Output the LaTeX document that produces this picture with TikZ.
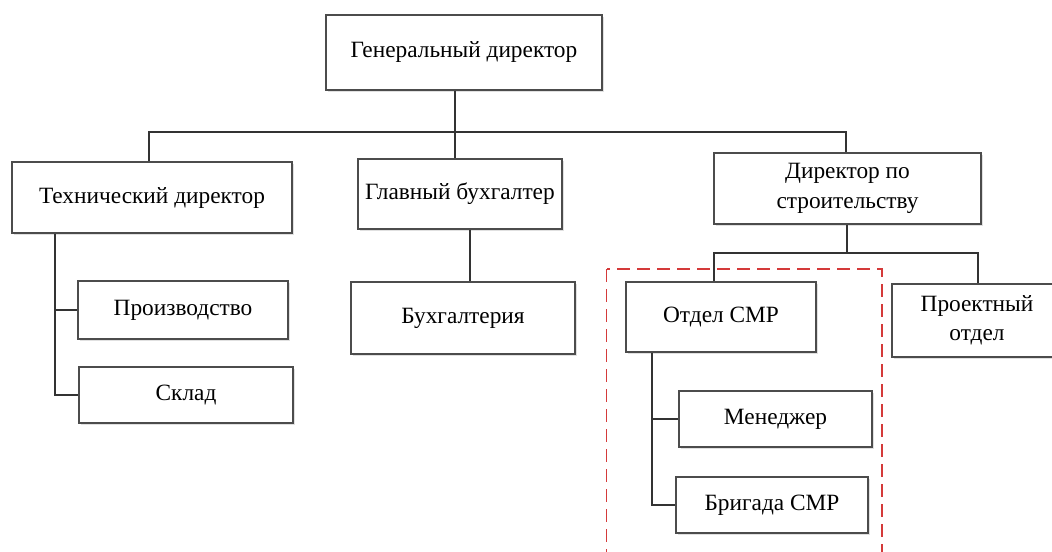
\documentclass[tikz,border=0pt]{standalone}
\usepackage{fontspec}
\setmainfont{Liberation Serif}
\usetikzlibrary{shadows}
\definecolor{groupred}{RGB}{212,58,58}

\begin{document}
\begin{tikzpicture}[x=0.75pt,y=-0.75pt,
    unitbox/.style={rectangle,draw=black!70,line width=0.8pt,fill=white,inner sep=2pt,
      drop shadow={shadow xshift=1.5pt,shadow yshift=-1.5pt,fill=black!12,opacity=1},
      align=center,font=\fontsize{17.5}{22}\selectfont},
    link/.style={draw=black!80,line width=0.8pt}]
    \useasboundingbox (0,0) rectangle (1052,552);
    \begin{scope}
	\node [unitbox,minimum width=276*0.75pt,minimum height=75*0.75pt] (gen) at (464,52.5) {Генеральный директор};
	\node [unitbox,minimum width=280*0.75pt,minimum height=71*0.75pt] (tech) at (152,197.5) {Технический директор};
	\node [unitbox,minimum width=204*0.75pt,minimum height=70*0.75pt] (buh) at (460,194) {Главный бухгалтер};
	\node [unitbox,minimum width=267*0.75pt,minimum height=71*0.75pt] (stroy) at (847.5,188.5) {Директор по\\строительству};
	\node [unitbox,minimum width=210*0.75pt,minimum height=58*0.75pt] (proizv) at (183,310) {Производство};
	\node [unitbox,minimum width=214*0.75pt,minimum height=56*0.75pt] (sklad) at (186,395) {Склад};
	\node [unitbox,minimum width=224*0.75pt,minimum height=72*0.75pt] (buhg) at (463,318) {Бухгалтерия};
	\node [unitbox,minimum width=190*0.75pt,minimum height=70*0.75pt] (otdel) at (721,317) {Отдел СМР};
	\node [unitbox,minimum width=170*0.75pt,minimum height=73*0.75pt] (proekt) at (977,320.5) {Проектный\\отдел};
	\node [unitbox,minimum width=193*0.75pt,minimum height=56*0.75pt] (meneg) at (775.5,419) {Менеджер};
	\node [unitbox,minimum width=192*0.75pt,minimum height=56*0.75pt] (brig) at (772,505) {Бригада СМР};
	\coordinate (bus) at (455,132);
	\coordinate (busl) at (149,132);
	\coordinate (busr) at (846,132);
	\draw [link] (bus |- gen.south) -- (bus |- buh.north);
	\draw [link] (busl |- tech.north) -- (busl) -- (busr) -- (busr |- stroy.north);
	\coordinate (techx) at (55,0);
	\draw [link] (techx |- tech.south) |- (sklad.west);
	\draw [link] (techx |- proizv.west) -- (proizv.west);
	\coordinate (buhx) at (470,0);
	\draw [link] (buhx |- buh.south) -- (buhx |- buhg.north);
	\coordinate (sub) at (847,253);
	\coordinate (subl) at (714,253);
	\coordinate (subr) at (978,253);
	\draw [link] (sub |- stroy.south) -- (sub);
	\draw [link] (subl |- otdel.north) -- (subl) -- (subr) -- (subr |- proekt.north);
	\coordinate (otdx) at (652,0);
	\draw [link] (otdx |- otdel.south) |- (brig.west);
	\draw [link] (otdx |- meneg.west) -- (meneg.west);
	\coordinate (grpa) at (606.5,269);
	\coordinate (grpb) at (882,565);
	\draw [groupred,line width=1pt,dash pattern=on 9.5pt off 5.5pt] (grpa) rectangle (grpb);
    \end{scope}
\end{tikzpicture}
\end{document}
